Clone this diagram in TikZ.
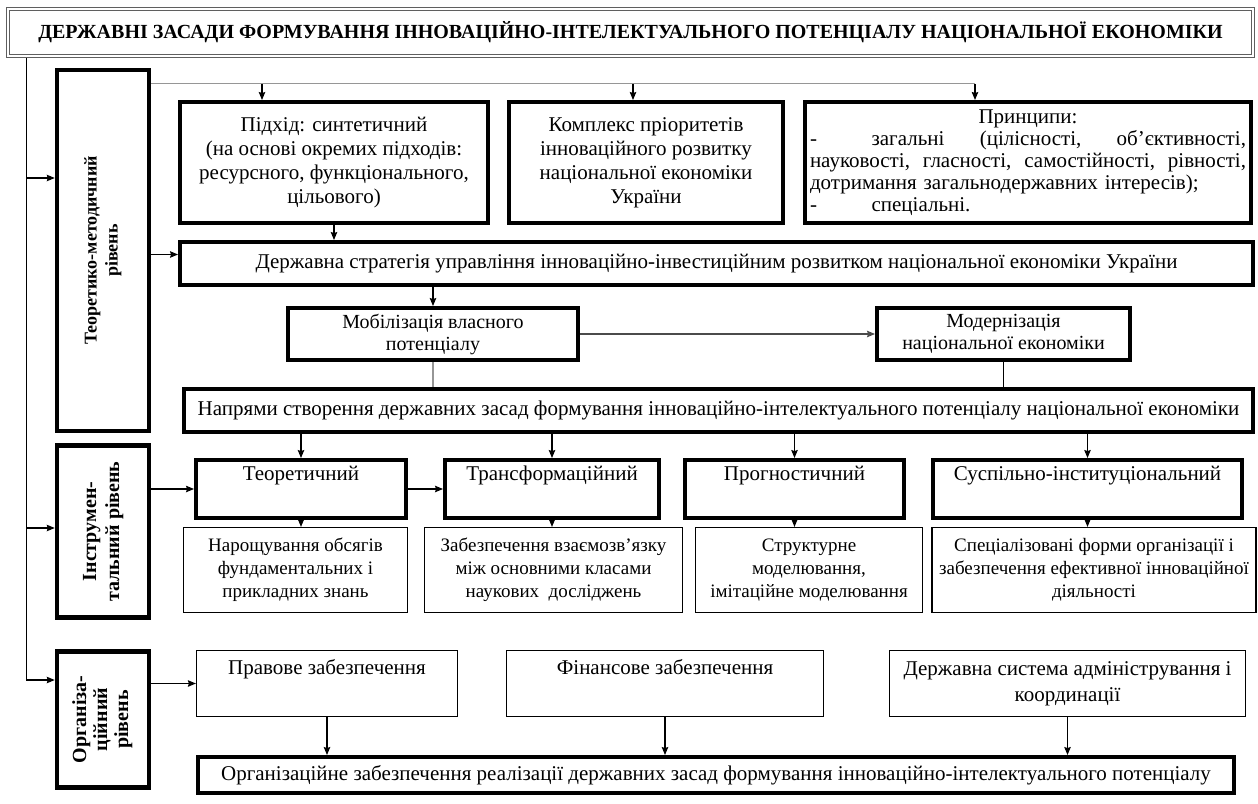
\documentclass[tikz,border=0pt]{standalone}
\usepackage{fontspec}
\setmainfont{Liberation Serif}
\usetikzlibrary{arrows.meta}
\definecolor{lnG}{RGB}{150,150,150}
\definecolor{ttlG}{RGB}{95,95,95}

\begin{document}
\begin{tikzpicture}[x=1pt,y=-1pt,>={Stealth[length=8pt,width=6.5pt,inset=1pt]},
  thk/.style={draw,line width=4pt,align=center,inner sep=1pt,font=\fontsize{21}{24}\selectfont},
  thn/.style={draw,line width=1.2pt,align=center,inner sep=1pt,font=\fontsize{19}{23}\selectfont},
  lvl/.style={draw,line width=4.5pt,minimum width=92pt,inner sep=0pt},
  con/.style={line width=1.1pt}]
\useasboundingbox (0,0) rectangle (1258,803);
\node[draw=ttlG,double,double distance=2.5pt,line width=0.9pt,minimum width=1245pt,minimum height=47pt,
  inner sep=1pt,font=\bfseries\fontsize{20}{23}\selectfont] (ttl) at (630.5,32.5)
  {ДЕРЖАВНІ ЗАСАДИ ФОРМУВАННЯ ІННОВАЦІЙНО-ІНТЕЛЕКТУАЛЬНОГО ПОТЕНЦІАЛУ НАЦІОНАЛЬНОЇ ЕКОНОМІКИ};
\node[lvl,minimum height=361pt,font=\bfseries\fontsize{18}{21}\selectfont] (tm) at (103,250.5)
  {\rotatebox{90}{\begin{tabular}{@{}c@{}}Теоретико-методичний\\рівень\end{tabular}}};
\node[lvl,minimum height=172pt,font=\bfseries\fontsize{20}{23}\selectfont] (ins) at (103,531.5)
  {\rotatebox{90}{\begin{tabular}{@{}c@{}}Інструмен-\\тальний рівень\end{tabular}}};
\node[lvl,minimum height=136pt,font=\bfseries\fontsize{20}{21}\selectfont] (org) at (103,719.5)
  {\rotatebox{90}{\begin{tabular}{@{}c@{}}Організа-\\ційний\\рівень\end{tabular}}};

\node[thk,minimum width=308pt,minimum height=121pt] (pid) at (334,162.5)
  {Підхід: синтетичний\\(на основі окремих підходів:\\ресурсного, функціонального,\\цільового)};
\node[thk,minimum width=274pt,minimum height=121pt] (kom) at (646,162.5)
  {Комплекс пріоритетів\\інноваційного розвитку\\національної економіки\\України};
\node[thk,minimum width=446pt,minimum height=121pt,text width=436pt,align=left,
  font=\fontsize{21}{22}\selectfont] (prn) at (1028,162.5)
  {\hfill Принципи:\hfill\mbox{}\\
   -\hspace{2.6em}загальні\hfill(цілісності,\hfill об’єктивності,\\
   науковості,\hfill гласності,\hfill самостійності,\hfill рівності,\\
   дотримання загальнодержавних інтересів);\\
   -\hspace{2.6em}спеціальні.};
\node[thk,minimum width=1073pt,minimum height=43pt] (str) at (716.5,263.5)
  {Державна стратегія управління інноваційно-інвестиційним розвитком національної економіки України};
\node[thk,minimum width=290pt,minimum height=52pt,font=\fontsize{20}{22}\selectfont] (mob) at (433,334)
  {Мобілізація власного\\потенціалу};
\node[thk,minimum width=253pt,minimum height=52pt,font=\fontsize{20}{22}\selectfont] (mod) at (1003.5,334)
  {Модернізація\\національної економіки};
\node[thk,minimum width=1069pt,minimum height=43pt] (nap) at (718.5,410.5)
  {Напрями створення державних засад формування інноваційно-інтелектуального потенціалу національної економіки};

\node[thk,minimum width=210pt,minimum height=58pt] (t1) at (301,489) {Теоретичний\\ \strut};
\node[thk,minimum width=214pt,minimum height=58pt] (t2) at (552,489) {Трансформаційний\\ \strut};
\node[thk,minimum width=219pt,minimum height=58pt] (t3) at (794.5,489) {Прогностичний\\ \strut};
\node[thk,minimum width=309pt,minimum height=58pt] (t4) at (1087.5,489) {Суспільно-інституціональний\\ \strut};
\node[thn,minimum width=224pt,minimum height=85pt] (l1) at (295.5,570)
  {Нарощування обсягів\\фундаментальних і\\прикладних знань};
\node[thn,minimum width=258pt,minimum height=85pt] (l2) at (553.5,570)
  {Забезпечення взаємозв’язку\\між основними класами\\наукових\ \ досліджень};
\node[thn,minimum width=227pt,minimum height=85pt] (l3) at (809,570)
  {Структурне\\моделювання,\\імітаційне моделювання};
\node[thn,minimum width=324pt,minimum height=85pt] (l4) at (1094,570)
  {Спеціалізовані форми організації і\\забезпечення ефективної інноваційної\\діяльності};

\node[thn,minimum width=261pt,minimum height=66pt,font=\fontsize{21}{26}\selectfont] (o1) at (327,683.5)
  {Правове забезпечення\\ \strut};
\node[thn,minimum width=317pt,minimum height=66pt,font=\fontsize{21}{26}\selectfont] (o2) at (665,683.5)
  {Фінансове забезпечення\\ \strut};
\node[thn,minimum width=356pt,minimum height=66pt,font=\fontsize{21}{26}\selectfont] (o3) at (1067.5,683.5)
  {Державна система адміністрування і\\координації};
\node[thk,minimum width=1036pt,minimum height=36pt] (ozb) at (716,775)
  {Організаційне забезпечення реалізації державних засад формування інноваційно-інтелектуального потенціалу};

\coordinate (trk) at (26.5,58);
\coordinate (tmIn) at ([yshift=72.5pt]tm.west);
\coordinate (insIn) at ([yshift=3.5pt]ins.west);
\coordinate (orgIn) at ([yshift=39.5pt]org.west);
\draw[con,->] (trk) |- (orgIn);
\draw[con,->] (trk |- tmIn) -- (tmIn);
\draw[con,->] (trk |- insIn) -- (insIn);

\coordinate (dst) at ([yshift=-16pt]tm.north east);
\foreach \b/\s in {pid/-72,kom/-13,prn/-53}
  \coordinate (in\b) at ([xshift=\s pt]\b.north);
\draw[con,lnG] (dst) -- (dst -| inprn);
\foreach \b in {pid,kom,prn}
  \draw[con,->] (dst -| in\b) -- (in\b);

\coordinate (strIn) at ([yshift=9pt]str.west);
\draw[con,->] (tm.east |- strIn) -- (strIn);
\draw[con,->] (pid.south) -- (pid.south |- str.north);
\draw[con,->] (str.south -| mob.north) -- (mob.north);
\draw[con,->,lnG!50!black] (mob.east) -- (mod.west);
\draw[con,lnG] (mob.south) -- (mob.south |- nap.north);
\draw[con] (mod.south) -- (mod.south |- nap.north);

\foreach \t/\l in {t1/l1,t2/l2,t3/l3,t4/l4} {
  \draw[con,->] (nap.south -| \t.north) -- (\t.north);
  \draw[con,->] (\t.south) -- (\t.south |- \l.north);
}
\draw[con,->] (ins.east |- t1.west) -- (t1.west);
\draw[con,->] (t1.east) -- (t2.west);

\draw[con,->] (org.east |- o1.west) -- (o1.west);
\foreach \o in {o1,o2,o3}
  \draw[con,->] (\o.south) -- (\o.south |- ozb.north);
\end{tikzpicture}
\end{document}
